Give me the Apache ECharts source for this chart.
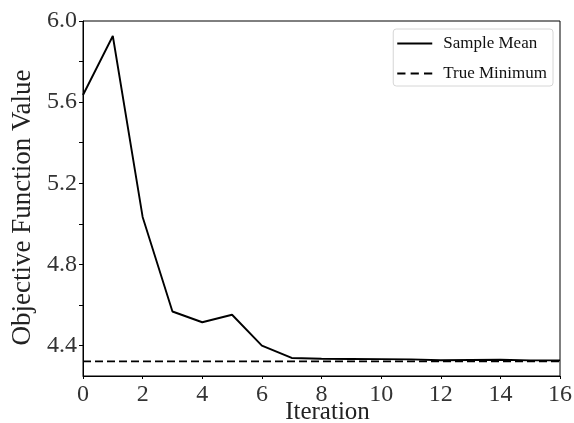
<!DOCTYPE html>
<html>
<head>
<meta charset="utf-8">
<script src="https://cdn.jsdelivr.net/npm/echarts@6/dist/echarts.min.js"></script>
<style>
  html, body { margin: 0; padding: 0; background: #fff; }
  #chart { width: 574px; height: 423px; }
</style>
</head>
<body>
<div id="chart"></div>
<script>
const iterations = [0, 1, 2, 3, 4, 5, 6, 7, 8, 9, 10, 11, 12, 13, 14, 15, 16]
const sampleMean = [5.635, 5.926, 5.034, 4.568, 4.515, 4.552, 4.40, 4.339, 4.335, 4.334, 4.333, 4.332, 4.328, 4.329, 4.330, 4.327, 4.327]
const trueMinimum = 4.322
const xTicks = [0, 2, 4, 6, 8, 10, 12, 14, 16]
const yLabelTicks = [4.4, 4.8, 5.2, 5.6, 6.0]
const yAllTicks = [4.4, 4.6, 4.8, 5.0, 5.2, 5.4, 5.6, 5.8, 6.0]

const font = 'Liberation Serif'

let chart = echarts.init(document.getElementById('chart'))
let options = {
  animation: false,
  legend: {
    right: 21,
    top: 29,
    orient: 'vertical',
    itemWidth: 35,
    itemHeight: 12,
    itemGap: 13,
    padding: [6, 6, 4, 4],
    borderColor: '#d6d6d6',
    borderWidth: 1,
    borderRadius: 3,
    textStyle: { fontFamily: font, fontSize: 17, color: '#111', padding: [0, 0, 0, 6] },
    data: [
      { name: 'Sample Mean', icon: 'path://M0,0 L35,0 L35,2 L0,2 Z' },
      { name: 'True Minimum', icon: 'path://M0,0 L8,0 L8,2 L0,2 Z M13,0 L21,0 L21,2 L13,2 Z M26,0 L34,0 L34,2 L26,2 Z' }
    ],
    itemStyle: { color: '#000' }
  },
  grid: {
    left: 83,
    right: 14,
    top: 21,
    bottom: 47,
    outerBoundsMode: 'none',
    containLabel: false,
    show: true,
    borderColor: '#000',
    borderWidth: 1
  },
  xAxis: {
    type: 'value',
    min: 0,
    max: 16,
    interval: 2,
    name: 'Iteration',
    nameLocation: 'middle',
    nameGap: 24,
    nameMoveOverlap: false,
    nameTextStyle: { fontFamily: font, fontSize: 25, color: '#222', padding: [0, 0, 0, 12] },
    axisLine: { lineStyle: { color: '#000', width: 1 } },
    axisTick: { show: true, length: 3, lineStyle: { color: '#000' } },
    axisLabel: {
      fontFamily: font, fontSize: 24, color: '#333', margin: 7,
      customValues: xTicks
    },
    splitLine: { show: false }
  },
  yAxis: {
    type: 'value',
    min: 4.25,
    max: 6.0,
    name: 'Objective Function Value',
    nameLocation: 'middle',
    nameGap: 47,
    nameMoveOverlap: false,
    nameTextStyle: { fontFamily: font, fontSize: 27, color: '#222', padding: [0, 18, 0, 0] },
    axisLine: { show: true, lineStyle: { color: '#000', width: 1 } },
    axisTick: { show: true, length: 4, lineStyle: { color: '#000' }, customValues: yAllTicks },
    axisLabel: {
      fontFamily: font, fontSize: 24, color: '#333', margin: 6,
      customValues: yLabelTicks,
      formatter: v => v.toFixed(1)
    },
    splitLine: { show: false }
  },
  series: [
    {
      name: 'Sample Mean',
      type: 'line',
      data: iterations.map((x, i) => [x, sampleMean[i]]),
      showSymbol: false,
      lineStyle: { color: '#000', width: 1.9 },
      itemStyle: { color: '#000' },
      z: 3
    },
    {
      name: 'True Minimum',
      type: 'line',
      data: [[iterations[0], trueMinimum], [iterations[iterations.length - 1], trueMinimum]],
      showSymbol: false,
      lineStyle: { color: '#000', width: 1.7, type: [8, 4] },
      itemStyle: { color: '#000' },
      z: 2
    }
  ]
}
chart.setOption(options)
</script>
</body>
</html>
